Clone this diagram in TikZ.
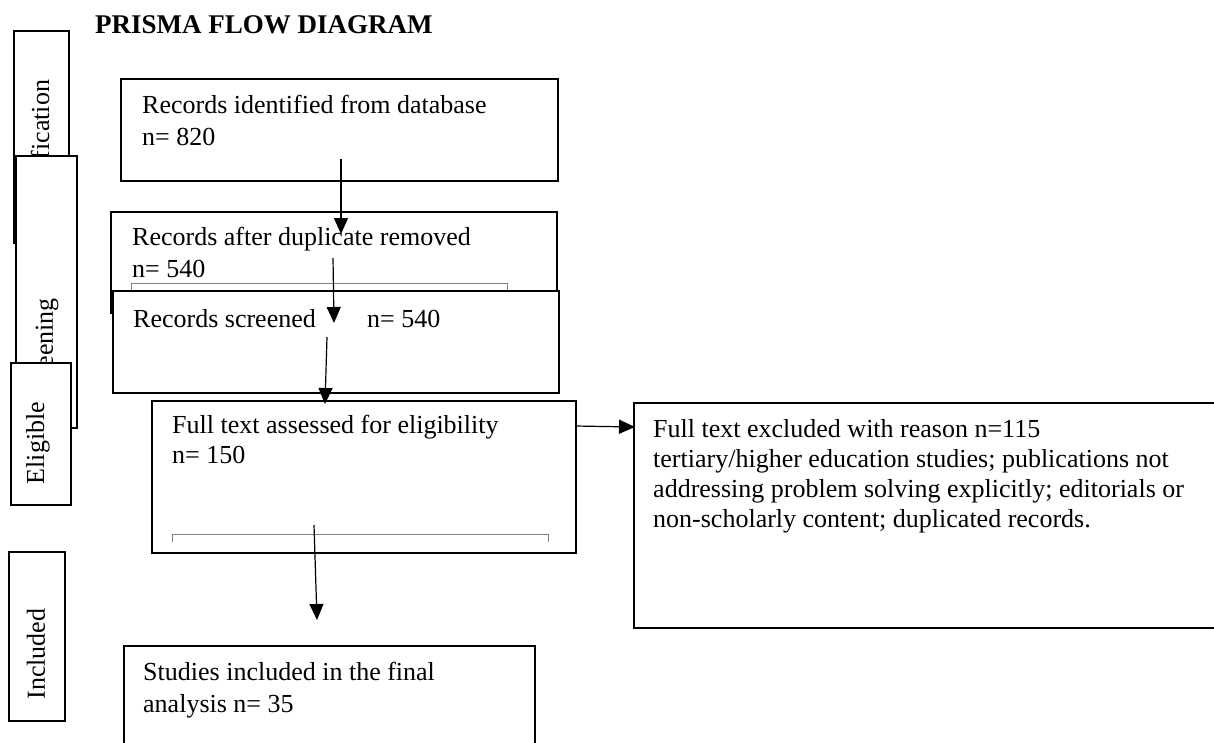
\documentclass[tikz,border=0pt]{standalone}
\usepackage{fontspec}
\setmainfont{Liberation Serif}
\usepackage{tikz}
\usetikzlibrary{arrows.meta, positioning}

\newcommand{\bodyfont}{\fontsize{26}{32}\selectfont}
\newcommand{\tightfont}{\fontsize{26}{30}\selectfont}
\newcommand{\titlefont}{\fontsize{27}{32}\selectfont\bfseries}

\begin{document}
\begin{tikzpicture}[x=1pt, y=-1pt]
  \tikzstyle{box} = [draw, line width=1.8pt, fill=white, inner sep=0pt, anchor=north west];
  \tikzstyle{txt} = [anchor=base west, align=left, inner sep=0pt, font=\bodyfont];
  \tikzstyle{sidetxt} = [rotate=90, inner sep=0pt, font=\bodyfont];
  \tikzstyle{bracket} = [draw=gray, line width=1pt];
  \tikzstyle{arr} = [-{Triangle[length=16pt, width=14pt]}, line width=1.2pt];

  \path[use as bounding box] (0,0) rectangle (1214,742);
  \clip (0,0) rectangle (1214,742);

  % stage boxes on the left
  \node[box, minimum width=55, minimum height=212] (ident) at (13,30) {};
  \node[sidetxt] (identtxt) at (40,150) {Identification};
  \node[box, minimum width=61, minimum height=272] (screen) at (15,155) {};
  \node[sidetxt] (screentxt) at (47,350) {Screening};
  \node[box, minimum width=60, minimum height=142] (elig) at (10,362) {};
  \node[sidetxt] (eligtxt) at (38,443) {Eligible};
  \node[box, minimum width=56, minimum height=169] (incl) at (8,551) {};
  \node[sidetxt] (incltxt) at (36,654) {Included};

  \node[anchor=base west, inner sep=0pt, font=\titlefont] (title) at (95,33) {PRISMA FLOW DIAGRAM};

  % flow boxes (text placed by its last baseline)
  \node[box, minimum width=437, minimum height=102] (ident1) at (120,78) {};
  \node[txt] (ident1txt) at (142,145) {Records identified from database\\n= 820};

  \node[box, minimum width=446, minimum height=101] (dup) at (110,211) {};
  \draw[bracket] (131,290) -- (131,283) -- (507,283) -- (507,290);
  \node[txt] (duptxt) at (132,277) {Records after duplicate removed\\n= 540};

  \node[box, minimum width=446, minimum height=102] (scr) at (112,290) {};
  \node[txt] (scrtxt) at (133,327) {Records screened};
  \node[txt] (scrn) at (367,327) {n= 540};

  \node[box, minimum width=424, minimum height=152] (full) at (151,400) {};
  \draw[bracket] (172,542) -- (172,534) -- (548,534) -- (548,542);
  \node[txt, font=\tightfont] (fulltxt) at (172,463) {Full text assessed for eligibility\\n= 150};

  \node[box, minimum width=600, minimum height=225] (excl) at (633,402) {};
  \node[txt, font=\tightfont] (excltxt) at (653,527) {Full text excluded with reason n=115\\
    tertiary/higher education studies; publications not\\
    addressing problem solving explicitly; editorials or\\
    non-scholarly content; duplicated records.};

  \node[box, minimum width=411, minimum height=130] (final) at (123,645) {};
  \node[txt] (finaltxt) at (143,712) {Studies included in the final\\analysis n= 35};

  % arrows
  \coordinate (a1) at (341,159);
  \coordinate (b1) at (341,234);
  \coordinate (a2) at (333,258);
  \coordinate (b2) at (334,323);
  \coordinate (a3) at (327,337);
  \coordinate (b3) at (325,404);
  \coordinate (a4) at (314,525);
  \coordinate (b4) at (317,620);
  \coordinate (a5) at (575,426);
  \coordinate (b5) at (635,427);

  \draw[arr] (a1) -- (b1);
  \draw[arr] (a2) -- (b2);
  \draw[arr] (a3) -- (b3);
  \draw[arr] (a4) -- (b4);
  \draw[arr] (a5) -- (b5);
\end{tikzpicture}
\end{document}
